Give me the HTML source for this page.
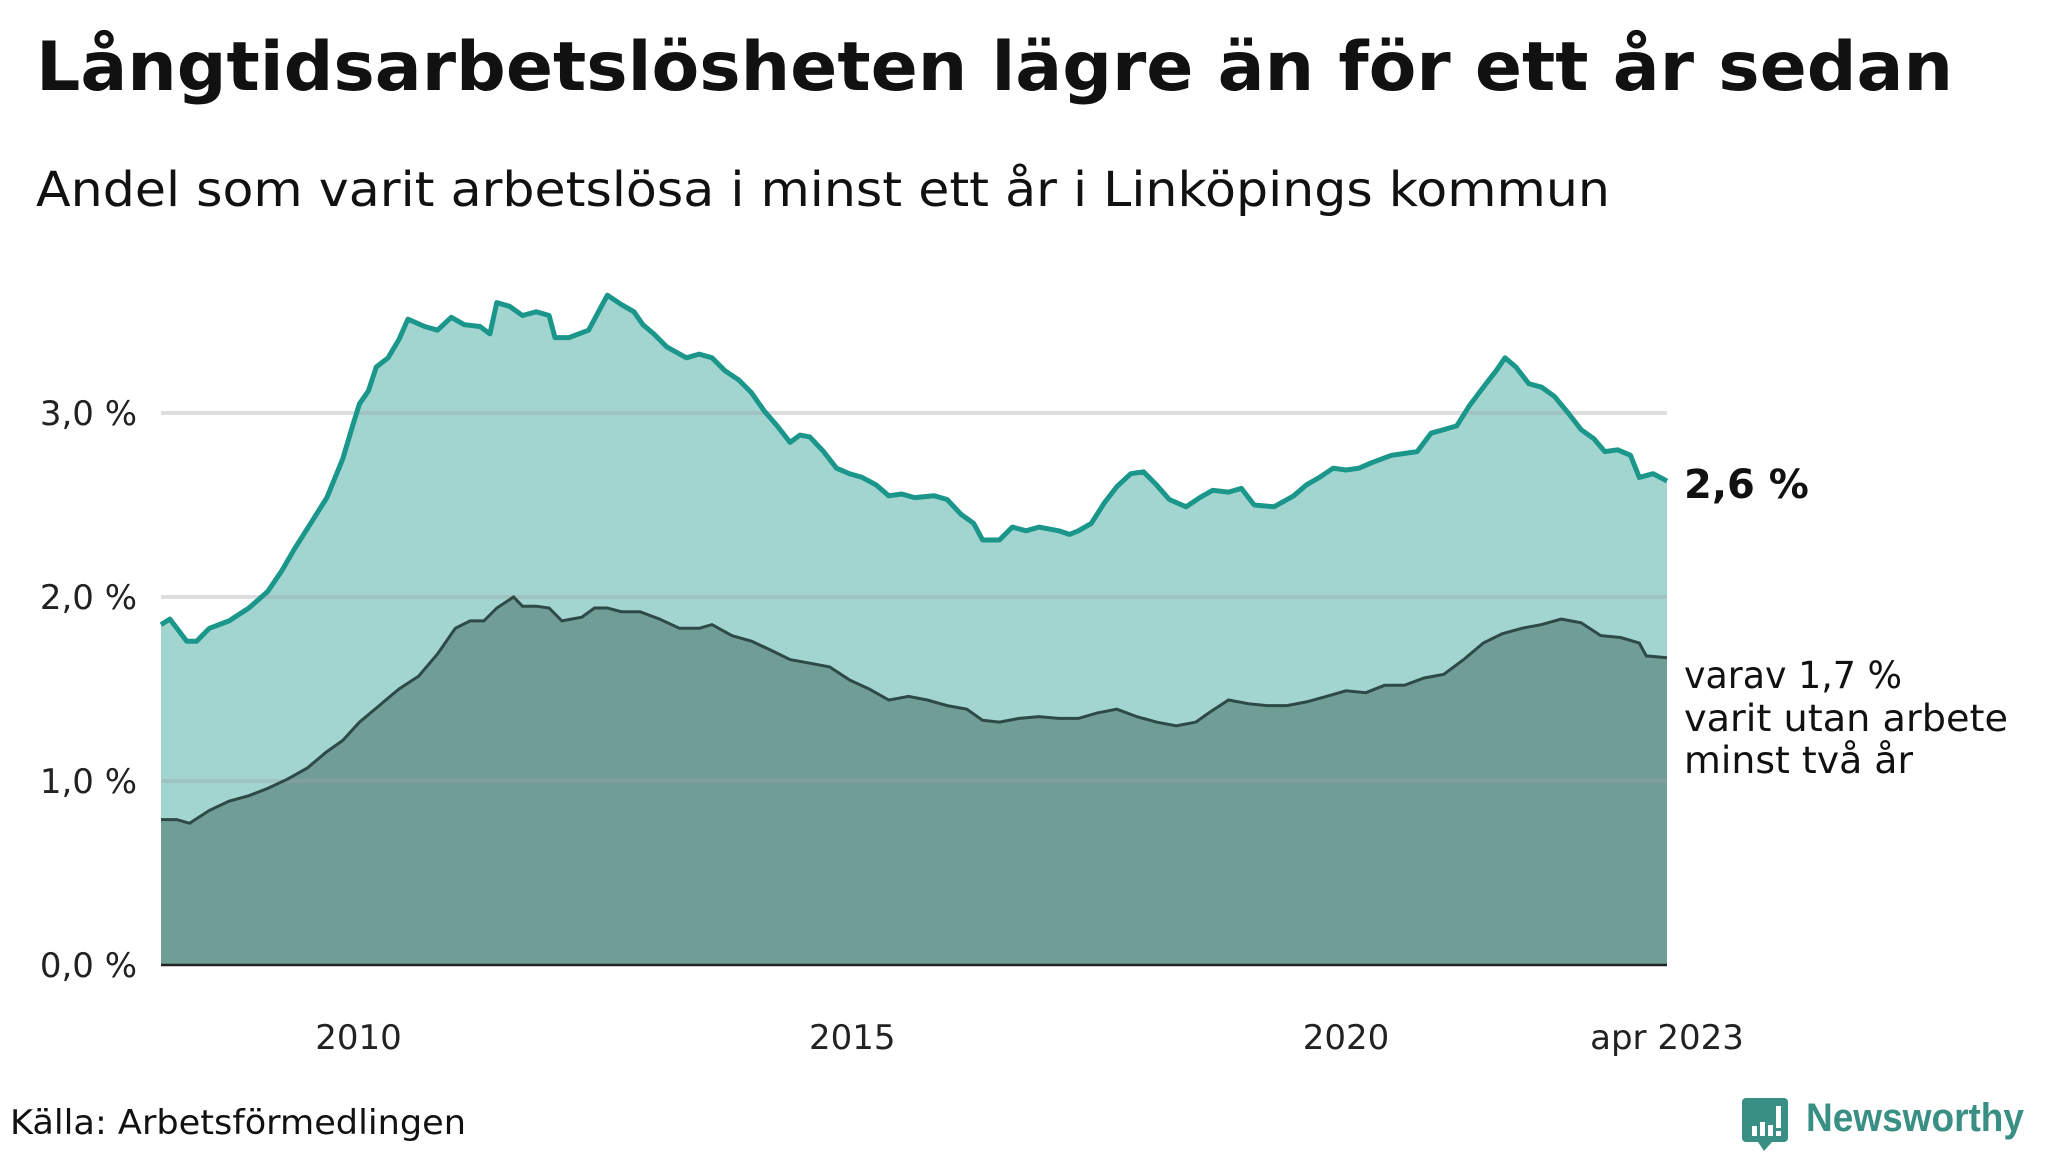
<!DOCTYPE html>
<html><head><meta charset="utf-8"><style>
html,body{margin:0;padding:0;background:#fff;}
svg{display:block;font-family:"DejaVu Sans","Liberation Sans",sans-serif;}
</style></head><body>
<svg id="chart" width="2048" height="1152" viewBox="0 0 2048 1152">
<text x="36" y="90" font-size="68" font-weight="bold" fill="#111" textLength="1917" lengthAdjust="spacingAndGlyphs">Långtidsarbetslösheten lägre än för ett år sedan</text>
<text x="36" y="206" font-size="48" fill="#111" textLength="1574" lengthAdjust="spacingAndGlyphs">Andel som varit arbetslösa i minst ett år i Linköpings kommun</text>
<g id="grid"></g>
<g id="areas"></g>
<g id="yaxis"></g>
<g id="xaxis"></g>
<text x="1684" y="498" font-size="40" font-weight="bold" fill="#111">2,6 %</text>
<g font-size="37" fill="#111">
<text x="1684" y="688" textLength="218" lengthAdjust="spacingAndGlyphs">varav 1,7 %</text>
<text x="1684" y="731" textLength="324" lengthAdjust="spacingAndGlyphs">varit utan arbete</text>
<text x="1684" y="773" textLength="229" lengthAdjust="spacingAndGlyphs">minst två år</text>
</g>
<text x="10" y="1134" font-size="34" fill="#111" textLength="456" lengthAdjust="spacingAndGlyphs">Källa: Arbetsförmedlingen</text>
<g>
<path d="M1746 1098 h38 a4 4 0 0 1 4 4 v36 a4 4 0 0 1 -4 4 h-12 l-8 9 l-6 -9 h-12 a4 4 0 0 1 -4 -4 v-36 a4 4 0 0 1 4 -4z" fill="#3a8f84"/>
<rect x="1752" y="1126" width="5" height="10" fill="#fff"/>
<rect x="1760" y="1122" width="5" height="14" fill="#fff"/>
<rect x="1768" y="1125" width="5" height="11" fill="#fff"/>
<rect x="1776" y="1106" width="5" height="22" fill="#fff"/>
<rect x="1776" y="1131" width="5" height="5" fill="#fff"/>
<text x="1806" y="1131" font-size="40" font-weight="bold" fill="#3a8f84" font-family="Liberation Sans, sans-serif" textLength="218" lengthAdjust="spacingAndGlyphs">Newsworthy</text>
</g>
</svg>
<script>
const topT=[2008.00,2008.09,2008.26,2008.36,2008.49,2008.69,2008.89,2009.08,2009.22,2009.35,2009.55,2009.68,2009.84,2009.94,2010.01,2010.10,2010.18,2010.30,2010.41,2010.50,2010.67,2010.80,2010.94,2011.07,2011.23,2011.33,2011.40,2011.53,2011.66,2011.80,2011.93,2011.99,2012.13,2012.33,2012.46,2012.52,2012.66,2012.79,2012.88,2012.99,2013.12,2013.32,2013.45,2013.58,2013.71,2013.85,2013.98,2014.11,2014.24,2014.37,2014.47,2014.57,2014.71,2014.84,2014.97,2015.10,2015.24,2015.37,2015.50,2015.63,2015.83,2015.96,2016.10,2016.23,2016.32,2016.49,2016.62,2016.76,2016.89,2017.09,2017.20,2017.29,2017.42,2017.55,2017.68,2017.82,2017.95,2018.08,2018.21,2018.38,2018.52,2018.65,2018.81,2018.94,2019.07,2019.27,2019.47,2019.60,2019.73,2019.87,2020.00,2020.13,2020.26,2020.46,2020.72,2020.86,2020.99,2021.12,2021.25,2021.39,2021.52,2021.61,2021.72,2021.85,2021.98,2022.11,2022.25,2022.38,2022.51,2022.62,2022.75,2022.88,2022.97,2023.11,2023.25];
const topV=[1.85,1.88,1.76,1.76,1.83,1.87,1.94,2.03,2.14,2.26,2.43,2.54,2.75,2.93,3.05,3.12,3.25,3.30,3.40,3.51,3.47,3.45,3.52,3.48,3.47,3.43,3.60,3.58,3.53,3.55,3.53,3.41,3.41,3.45,3.58,3.64,3.59,3.55,3.48,3.43,3.36,3.30,3.32,3.30,3.23,3.18,3.11,3.01,2.93,2.84,2.88,2.87,2.79,2.70,2.67,2.65,2.61,2.55,2.56,2.54,2.55,2.53,2.45,2.40,2.31,2.31,2.38,2.36,2.38,2.36,2.34,2.36,2.40,2.51,2.60,2.67,2.68,2.61,2.53,2.49,2.54,2.58,2.57,2.59,2.50,2.49,2.55,2.61,2.65,2.70,2.69,2.70,2.73,2.77,2.79,2.89,2.91,2.93,3.04,3.14,3.23,3.30,3.25,3.16,3.14,3.09,3.00,2.91,2.86,2.79,2.80,2.77,2.65,2.67,2.63];
const botT=[2008.00,2008.16,2008.29,2008.49,2008.69,2008.89,2009.08,2009.28,2009.48,2009.68,2009.84,2010.01,2010.21,2010.41,2010.61,2010.80,2010.98,2011.13,2011.27,2011.40,2011.57,2011.66,2011.80,2011.93,2012.06,2012.26,2012.39,2012.52,2012.66,2012.85,2013.05,2013.25,2013.45,2013.58,2013.78,2013.98,2014.18,2014.37,2014.57,2014.77,2014.97,2015.17,2015.37,2015.57,2015.76,2015.96,2016.16,2016.32,2016.49,2016.69,2016.89,2017.09,2017.29,2017.48,2017.68,2017.88,2018.08,2018.28,2018.48,2018.61,2018.81,2019.01,2019.20,2019.40,2019.60,2019.80,2020.00,2020.20,2020.39,2020.59,2020.79,2020.99,2021.19,2021.39,2021.58,2021.78,2021.98,2022.18,2022.38,2022.58,2022.78,2022.97,2023.04,2023.25];
const botV=[0.79,0.79,0.77,0.84,0.89,0.92,0.96,1.01,1.07,1.16,1.22,1.32,1.41,1.50,1.57,1.69,1.83,1.87,1.87,1.94,2.00,1.95,1.95,1.94,1.87,1.89,1.94,1.94,1.92,1.92,1.88,1.83,1.83,1.85,1.79,1.76,1.71,1.66,1.64,1.62,1.55,1.50,1.44,1.46,1.44,1.41,1.39,1.33,1.32,1.34,1.35,1.34,1.34,1.37,1.39,1.35,1.32,1.30,1.32,1.37,1.44,1.42,1.41,1.41,1.43,1.46,1.49,1.48,1.52,1.52,1.56,1.58,1.66,1.75,1.80,1.83,1.85,1.88,1.86,1.79,1.78,1.75,1.68,1.67];
const yTicks=[0,1,2,3];
const yTickLabels=["0,0 %","1,0 %","2,0 %","3,0 %"];
const xTicks=[2010,2015,2020,2023.25];
const xTickLabels=["2010","2015","2020","apr 2023"];

const NS="http://www.w3.org/2000/svg";
const X0=161,X1=1667,T0=2008,T1=2023.25,Y0=965,YS=184;
const xs=t=>X0+(t-T0)/(T1-T0)*(X1-X0);
const ys=v=>Y0-v*YS;
function mk(tag,attrs,parent){const e=document.createElementNS(NS,tag);for(const k in attrs)e.setAttribute(k,attrs[k]);parent.appendChild(e);return e;}
const grid=document.getElementById('grid'),areas=document.getElementById('areas'),ya=document.getElementById('yaxis'),xa=document.getElementById('xaxis');
function pts(T,V){return T.map((t,i)=>xs(t).toFixed(1)+','+ys(V[i]).toFixed(1)).join(' L');}
const ta=mk('path',{d:'M'+xs(topT[0])+','+Y0+' L'+pts(topT,topV)+' L'+xs(topT[topT.length-1])+','+Y0+'Z',fill:'#a3d5d0'},areas);


const ba=mk('path',{d:'M'+xs(botT[0])+','+Y0+' L'+pts(botT,botV)+' L'+xs(botT[botT.length-1])+','+Y0+'Z',fill:'#719d97'},areas);


yTicks.forEach((v,i)=>{
  if(v>0){const g=mk('line',{x1:X0,x2:X1,y1:ys(v),y2:ys(v),stroke:'rgba(160,160,170,0.35)','stroke-width':4},areas);
  
  }
  const t=mk('text',{x:137,y:ys(v)+12,'font-size':34,fill:'#222','text-anchor':'end'},ya);
  
  
  t.textContent=yTickLabels[i];
});
const bl=mk('path',{d:'M'+pts(botT,botV),fill:'none',stroke:'#2e4a46','stroke-width':3},areas);


const tl=mk('path',{d:'M'+pts(topT,topV),fill:'none',stroke:'#1a968a','stroke-width':5,'stroke-linejoin':'round'},areas);


const ax=mk('line',{x1:X0,x2:X1,y1:Y0,y2:Y0,stroke:'#222','stroke-width':2.5},xa);


xTicks.forEach((t,i)=>{
  const e=mk('text',{x:xs(t),y:1049,'font-size':34,fill:'#222','text-anchor':'middle'},xa);
  
  
  e.textContent=xTickLabels[i];
});
</script>
</body></html>
